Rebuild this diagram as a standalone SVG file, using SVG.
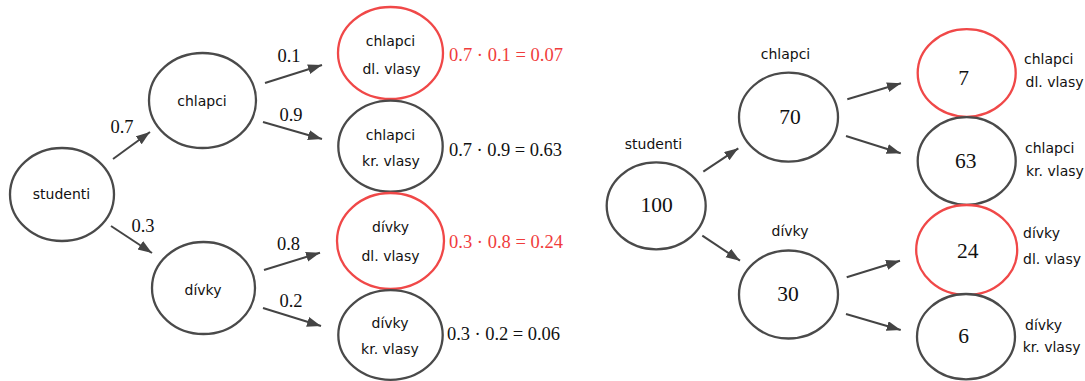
<svg xmlns="http://www.w3.org/2000/svg" width="1085" height="381" viewBox="0 0 1085 381">
<defs>
<marker id="arr" markerUnits="userSpaceOnUse" markerWidth="16" markerHeight="12" refX="14" refY="5" orient="auto">
<path d="M0,0 L14,5 L0,10 Z" fill="#444"/>
</marker>
<style>
.n{fill:#fff;stroke:#4a4a4a;stroke-width:2.3}
.r{fill:#fff;stroke:#f04848;stroke-width:2.3}
.t{font-family:"DejaVu Sans",sans-serif;font-size:14px;fill:#111;text-anchor:middle}
.tl{font-family:"DejaVu Sans",sans-serif;font-size:14px;fill:#111;text-anchor:start}
.m{font-family:"Liberation Serif",serif;font-size:18.5px;fill:#111;text-anchor:middle}
.ms{font-family:"Liberation Serif",serif;font-size:18.5px;fill:#111;text-anchor:start}
.red{fill:#f03c3c}
.big{font-family:"Liberation Serif",serif;font-size:21.5px;fill:#111;text-anchor:middle}
.c{stroke:#444;stroke-width:2;fill:none;marker-end:url(#arr)}
</style>
</defs>
<rect width="1085" height="381" fill="#fff"/>

<g id="connectors">
<line class="c" x1="113" y1="159" x2="150" y2="132"/>
<line class="c" x1="111" y1="226" x2="152" y2="253"/>
<line class="c" x1="265" y1="83" x2="322" y2="65"/>
<line class="c" x1="263" y1="122" x2="322" y2="139"/>
<line class="c" x1="264" y1="270" x2="320" y2="252.7"/>
<line class="c" x1="263" y1="308" x2="321" y2="326"/>
<line class="c" x1="703.3" y1="171.7" x2="738.3" y2="148.3"/>
<line class="c" x1="702.3" y1="235.7" x2="740" y2="260.7"/>
<line class="c" x1="847.3" y1="99.3" x2="901" y2="83.3"/>
<line class="c" x1="846" y1="136" x2="900.7" y2="153.3"/>
<line class="c" x1="846.7" y1="277.3" x2="900" y2="260.7"/>
<line class="c" x1="846" y1="314" x2="900.7" y2="330"/>
</g>

<g id="edge-labels">
<text class="m" x="122" y="133">0.7</text>
<text class="m" x="143" y="232">0.3</text>
<text class="m" x="289" y="62">0.1</text>
<text class="m" x="291" y="121">0.9</text>
<text class="m" x="288.5" y="250">0.8</text>
<text class="m" x="291" y="307">0.2</text>
</g>

<g id="studenti">
<ellipse class="n" cx="62" cy="194.5" rx="52" ry="46.5"/>
<text class="t" x="61.5" y="199.3">studenti</text>
</g>
<g id="chlapci">
<ellipse class="n" cx="202.5" cy="100.5" rx="53.5" ry="47.5"/>
<text class="t" x="202" y="105.7">chlapci</text>
</g>
<g id="divky">
<ellipse class="n" cx="203.5" cy="288" rx="51.5" ry="46"/>
<text class="t" x="203" y="295">dívky</text>
</g>

<g id="chlapci-dl">
<ellipse class="r" cx="390.5" cy="53" rx="52.5" ry="46"/>
<text class="t" x="390.5" y="45.7">chlapci</text>
<text class="t" x="391.5" y="74">dl. vlasy</text>
</g>
<g id="chlapci-kr">
<ellipse class="n" cx="390.5" cy="146.2" rx="52.2" ry="45.5"/>
<text class="t" x="390.5" y="139.8">chlapci</text>
<text class="t" x="391" y="165.5">kr. vlasy</text>
</g>
<g id="divky-dl">
<ellipse class="r" cx="390.5" cy="241" rx="53.5" ry="48"/>
<text class="t" x="390.5" y="231.7">dívky</text>
<text class="t" x="390.5" y="261">dl. vlasy</text>
</g>
<g id="divky-kr">
<ellipse class="n" cx="390.5" cy="335" rx="52.2" ry="44.8"/>
<text class="t" x="390" y="327.7">dívky</text>
<text class="t" x="390" y="354">kr. vlasy</text>
</g>

<g id="products">
<text class="ms red" x="449" y="61" textLength="114" lengthAdjust="spacing">0.7 · 0.1 = 0.07</text>
<text class="ms" x="449" y="155.7" textLength="113" lengthAdjust="spacing">0.7 · 0.9 = 0.63</text>
<text class="ms red" x="449" y="248.3" textLength="114" lengthAdjust="spacing">0.3 · 0.8 = 0.24</text>
<text class="ms" x="447" y="340" textLength="113" lengthAdjust="spacing">0.3 · 0.2 = 0.06</text>
</g>

<g id="r-studenti">
<ellipse class="n" cx="656.2" cy="205.8" rx="49.5" ry="43.5"/>
<text class="big" x="656.5" y="211.7">100</text>
<text class="t" x="653.5" y="149">studenti</text>
</g>
<g id="r-chlapci">
<ellipse class="n" cx="788.5" cy="117.2" rx="49.5" ry="44.5"/>
<text class="big" x="790" y="124.3">70</text>
<text class="t" x="785.5" y="59.3">chlapci</text>
</g>
<g id="r-divky">
<ellipse class="n" cx="788.5" cy="294.5" rx="49.5" ry="44"/>
<text class="big" x="788" y="301">30</text>
<text class="t" x="790" y="236">dívky</text>
</g>

<g id="r-chlapci-dl">
<ellipse class="r" cx="966.7" cy="73" rx="49" ry="43.8"/>
<text class="big" x="963.5" y="85">7</text>
<text class="tl" x="1024" y="64.3">chlapci</text>
<text class="tl" x="1025.5" y="86.7">dl. vlasy</text>
</g>
<g id="r-chlapci-kr">
<ellipse class="n" cx="966.7" cy="161" rx="49" ry="43.8"/>
<text class="big" x="965.7" y="168.3">63</text>
<text class="tl" x="1025" y="153.3">chlapci</text>
<text class="tl" x="1026" y="176">kr. vlasy</text>
</g>
<g id="r-divky-dl">
<ellipse class="r" cx="966.7" cy="250" rx="50.5" ry="45"/>
<text class="big" x="967.7" y="258.3">24</text>
<text class="tl" x="1023" y="238.3">dívky</text>
<text class="tl" x="1023" y="264">dl. vlasy</text>
</g>
<g id="r-divky-kr">
<ellipse class="n" cx="966" cy="336.7" rx="49" ry="42.7"/>
<text class="big" x="963.5" y="343.3">6</text>
<text class="tl" x="1025" y="330">dívky</text>
<text class="tl" x="1022.7" y="352.3">kr. vlasy</text>
</g>
</svg>
